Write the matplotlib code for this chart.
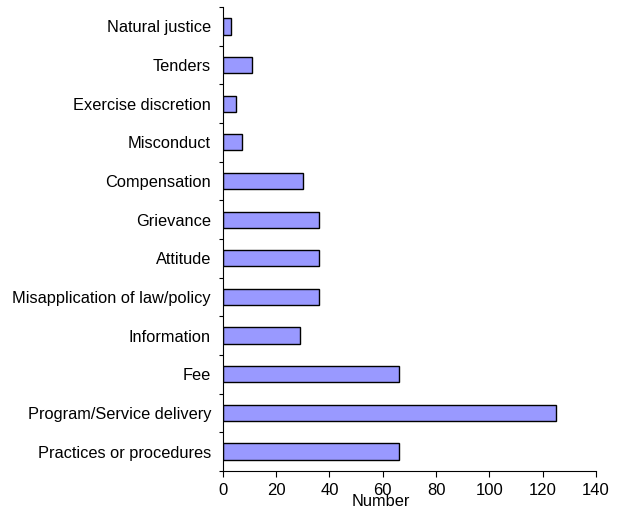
from matplotlib import pyplot as plt
import numpy as np

categories = ['Practices or procedures', 'Program/Service delivery', 'Fee', 'Information',
              'Misapplication of law/policy', 'Attitude', 'Grievance', 'Compensation',
              'Misconduct', 'Exercise discretion', 'Tenders', 'Natural justice']
counts = [66, 125, 66, 29, 36, 36, 36, 30, 7, 5, 11, 3]

plt.rcParams['font.family'] = ['Liberation Sans', 'DejaVu Sans']

fig = plt.figure(figsize=(6.19, 5.09), dpi=100)
ax = fig.add_axes([0.360, 0.075, 0.603, 0.911])

y = np.arange(len(categories))
ax.barh(y, counts, height=0.42, color='#9999FF', edgecolor='black', linewidth=1.0)

ax.set_xlim(0, 140)
ax.set_ylim(-0.5, len(categories) - 0.5)
ax.set_xticks(np.arange(0, 141, 20))
ax.set_yticks(y)
ax.set_yticklabels(categories)
ax.set_yticks(np.arange(-0.5, len(categories), 1), minor=True)
ax.tick_params(axis='y', which='major', length=0, pad=8.5, labelsize=11.8)
ax.tick_params(axis='y', which='minor', length=3, width=0.8)
ax.tick_params(axis='x', length=4, width=0.8, pad=5, labelsize=12)

ax.set_xlabel('Number', fontsize=11.8)
ax.xaxis.set_label_coords(0.424, -0.050)

# only left and bottom borders
ax.spines['top'].set_visible(False)
ax.spines['right'].set_visible(False)

fig.savefig('out.png', dpi=100)
